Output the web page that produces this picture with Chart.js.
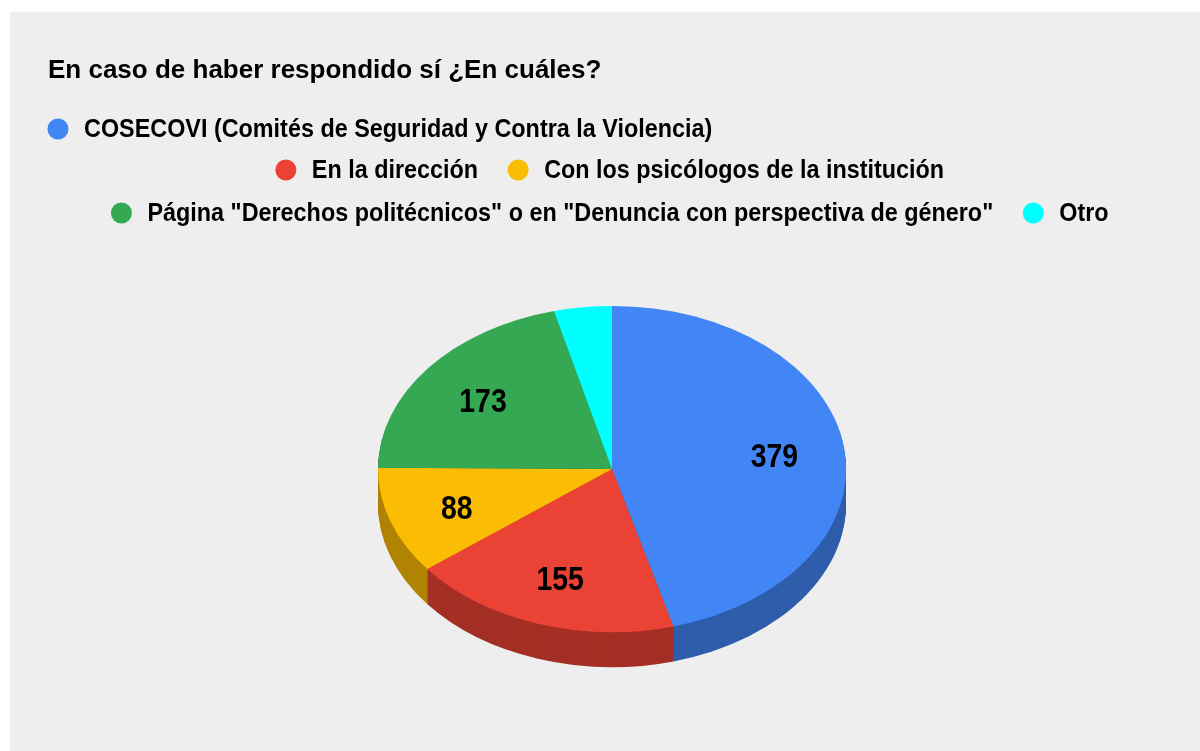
<!DOCTYPE html>
<html>
<head>
<meta charset="utf-8">
<script src="https://cdn.jsdelivr.net/npm/chart.js@4.4.1/dist/chart.umd.min.js"></script>
<style>
  html, body { margin: 0; padding: 0; background: #ffffff; }
  canvas { display: block; }
</style>
</head>
<body>
<canvas id="chart" width="1200" height="751"></canvas>
<script>
// chart data
const chartTitle = 'En caso de haber respondido sí ¿En cuáles?';
const categories = [
    'COSECOVI (Comités de Seguridad y Contra la Violencia)',
    'En la dirección',
    'Con los psicólogos de la institución',
    'Página "Derechos politécnicos" o en "Denuncia con perspectiva de género"',
    'Otro'
];
const values = [379, 155, 88, 173, 33];
const colors = ['#4285F4', '#EA4335', '#FBBC04', '#34A853', '#00FFFF'];
const sideColors = ['#2E5DAB', '#A42F25', '#B08303', '#24763A', '#00B3B3'];

const FONT = '"Liberation Sans", Arial, sans-serif';
const TILT = 0.697;   // vertical squash of the pie
const DEPTH = 35;     // thickness of the 3d side

function squeezeText(ctx, text, x, y, sx, align) {
    ctx.save();
    ctx.translate(x, y);
    ctx.scale(sx, 1);
    ctx.textAlign = align || 'left';
    ctx.fillText(text, 0, 0);
    ctx.restore();
}

const pie3d = {
    id: 'pie3d',
    beforeDraw(chart) {
        const ctx = chart.ctx;
        ctx.save();
        ctx.fillStyle = '#ffffff';
        ctx.fillRect(0, 0, chart.width, chart.height);
        ctx.fillStyle = '#eeeeee';
        ctx.fillRect(10, 12, chart.width - 10, chart.height - 12);
        ctx.restore();
    },
    beforeDatasetsDraw(chart) {
        const ctx = chart.ctx;
        const meta = chart.getDatasetMeta(0);
        const cy = meta.data[0].y;
        // side walls: darker copies pushed down
        for (let d = DEPTH; d > 0; d--) {
            ctx.save();
            ctx.translate(0, cy + d);
            ctx.scale(1, TILT);
            ctx.translate(0, -cy);
            meta.data.forEach((el, i) => {
                const o = el.options;
                el.options = Object.assign({}, o, {backgroundColor: sideColors[i], borderWidth: 0});
                el.draw(ctx);
                el.options = o;
            });
            ctx.restore();
        }
        // top face, drawn by chart.js under this transform
        ctx.save();
        ctx.translate(0, cy);
        ctx.scale(1, TILT);
        ctx.translate(0, -cy);
    },
    afterDatasetsDraw(chart) {
        const ctx = chart.ctx;
        ctx.restore();
        const meta = chart.getDatasetMeta(0);
        const total = values.reduce((a, b) => a + b, 0);
        ctx.save();
        ctx.fillStyle = '#000000';
        ctx.font = 'bold 33px ' + FONT;
        ctx.textBaseline = 'middle';
        meta.data.forEach((el, i) => {
            if (values[i] / total < 0.05) return;
            const mid = (el.startAngle + el.endAngle) / 2;
            const r = el.outerRadius * 0.7;
            const x = el.x + Math.cos(mid) * r;
            const y = el.y + Math.sin(mid) * r * TILT + 4;
            squeezeText(ctx, String(values[i]), x, y, 0.86, 'center');
        });
        ctx.restore();
    },
    afterDraw(chart) {
        const ctx = chart.ctx;
        ctx.save();
        ctx.fillStyle = '#000000';
        ctx.textBaseline = 'alphabetic';
        ctx.font = 'bold 26px ' + FONT;
        squeezeText(ctx, chartTitle, 48, 78, 1, 'left');

        // legend, rows as in the original
        const rows = [[0], [1, 2], [3, 4]];
        const rowY = [129, 170, 213];
        const sx = 0.935;
        ctx.font = 'bold 25px ' + FONT;
        ctx.textBaseline = 'middle';
        rows.forEach((row, r) => {
            const widths = row.map(i => ctx.measureText(categories[i]).width * sx);
            let total = 10;
            widths.forEach((w, k) => { total += 26 + w + (k < row.length - 1 ? 40 : 0); });
            let x = r === 0 ? 58 : 610 - total / 2 + 10;
            row.forEach((i, k) => {
                ctx.fillStyle = colors[i];
                ctx.beginPath();
                ctx.arc(x, rowY[r], 10.5, 0, Math.PI * 2);
                ctx.fill();
                ctx.fillStyle = '#000000';
                squeezeText(ctx, categories[i], x + 26, rowY[r] + 1, sx, 'left');
                x += 26 + widths[k] + 40;
            });
        });
        ctx.restore();
    }
};

new Chart(document.getElementById('chart'), {
    type: 'pie',
    data: {
        labels: categories,
        datasets: [{
            data: values,
            backgroundColor: colors,
            borderWidth: 0
        }]
    },
    options: {
        responsive: false,
        devicePixelRatio: 1,
        animation: false,
        layout: {
            padding: {left: 378, right: 354, top: 235, bottom: 48}
        },
        plugins: {
            legend: {display: false},
            title: {display: false},
            tooltip: {enabled: false}
        }
    },
    plugins: [pie3d]
});
</script>
</body>
</html>
